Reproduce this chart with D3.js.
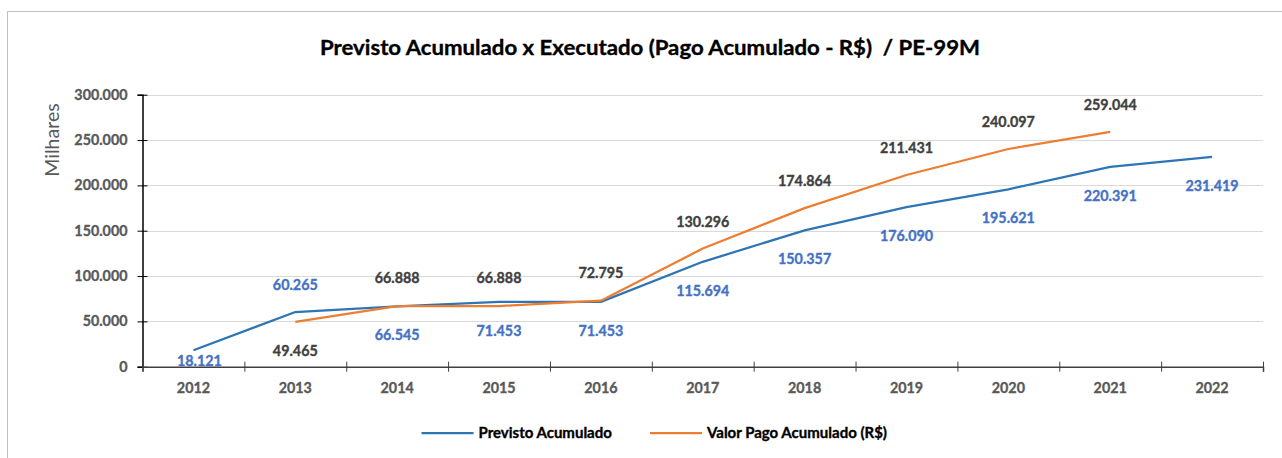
<!DOCTYPE html>
<html>
<head>
<meta charset="utf-8">
<script src="https://cdn.jsdelivr.net/npm/d3@7"></script>
<style>
  html, body { margin: 0; padding: 0; background: #fff; }
  svg { display: block; font-family: Lato, "Open Sans", sans-serif; }
  .heavy { stroke-width: 0.35px; paint-order: stroke; }
</style>
</head>
<body>
<svg id="chart" width="1282" height="458"></svg>
<script>
// ---- data ----
const categories = ["2012","2013","2014","2015","2016","2017","2018","2019","2020","2021","2022"];
const previsto = [18121, 60265, 66545, 71453, 71453, 115694, 150357, 176090, 195621, 220391, 231419];
const pago = [null, 49465, 66888, 66888, 72795, 130296, 174864, 211431, 240097, 259044, null];
const yTicks = [0, 50000, 100000, 150000, 200000, 250000, 300000];
const seriesNames = ["Previsto Acumulado", "Valor Pago Acumulado (R$)"];
const titleText = "Previsto Acumulado x Executado (Pago Acumulado - R$)  / PE-99M";
const yAxisTitle = "Milhares";

// ---- label placement (layout, not data) ----
const prevLabelDy = [11, -27, 29, 29, 29, 29, 29, 29, 29, 29, 29];
const prevLabelDx = [6, 0, 0, 0, 0, 0, 0, 0, 0, 0, 0];
const pagoLabelDy = [0, 29, -28, -28, -28, -27, -27, -27, -27, -27, 0];

const colors = { previsto: "#2E75B6", pago: "#ED7D31", prevLabel: "#4472C4", pagoLabel: "#404040", axisText: "#595959" };

const svg = d3.select("#chart");
const locale = d3.formatLocale({ decimal: ",", thousands: ".", grouping: [3], currency: ["R$", ""] });
const fmt = locale.format(",.0f");
const fmtLabel = v => locale.format(",.0f")(v);

const plot = { left: 142.5, right: 1263, top: 94.7, bottom: 366.7 };
const fs = 14.3;

const x = d3.scaleBand().domain(categories).range([plot.left, plot.right]).padding(0);
const xi = d3.scaleLinear().domain([0, categories.length]).range([plot.left, plot.right]);
const y = d3.scaleLinear().domain([0, 300000]).range([plot.bottom, plot.top]);
const cx = c => x(c) + x.bandwidth() / 2;

// chart border
svg.append("rect").attr("x", 7.5).attr("y", 11.5).attr("width", 1400).attr("height", 600)
  .attr("fill", "none").attr("stroke", "#bfbfbf").attr("stroke-width", 1);

// title
svg.append("text").attr("x", 650).attr("y", 55).attr("text-anchor", "middle")
  .attr("font-size", 20.5).attr("font-weight", "bold").attr("fill", "#000")
  .attr("class", "heavy").attr("stroke", "#000")
  .attr("textLength", 660).attr("lengthAdjust", "spacingAndGlyphs")
  .style("white-space", "pre")
  .text(titleText);

// gridlines
svg.append("g").selectAll("line").data(yTicks.filter(d => d > 0)).join("line")
  .attr("x1", plot.left).attr("x2", plot.right)
  .attr("y1", d => Math.round(y(d)) + 0.5).attr("y2", d => Math.round(y(d)) + 0.5)
  .attr("stroke", "#d9d9d9").attr("stroke-width", 1);

// y axis
const yAxis = svg.append("g").attr("transform", `translate(${plot.left},0)`)
  .call(d3.axisLeft(y).tickValues(yTicks).tickFormat(fmt).tickSize(5).tickPadding(10));
yAxis.select(".domain").attr("stroke", "#000").attr("stroke-width", 1.5);
yAxis.selectAll(".tick line").attr("x1", 5).attr("x2", -5).attr("stroke", "#000");
yAxis.selectAll(".tick text").attr("font-size", fs).attr("font-weight", "bold")
  .attr("fill", colors.axisText).attr("font-family", "Lato, sans-serif")
  .attr("class", "heavy").attr("stroke", colors.axisText);

// x axis (boundary ticks)
const xAxis = svg.append("g").attr("transform", `translate(0,${plot.bottom})`)
  .call(d3.axisBottom(xi).tickValues(d3.range(0, categories.length + 1)).tickSize(5).tickFormat(""));
xAxis.select(".domain").attr("stroke", "#404040").attr("stroke-width", 1.5);
xAxis.selectAll(".tick line").attr("y1", -5).attr("y2", 5).attr("stroke", "#404040");

// x labels
svg.append("g").selectAll("text").data(categories).join("text")
  .attr("x", d => cx(d)).attr("y", 388).attr("dy", "0.35em").attr("text-anchor", "middle")
  .attr("font-size", fs).attr("font-weight", "bold").attr("fill", colors.axisText)
  .attr("class", "heavy").attr("stroke", colors.axisText)
  .text(d => d);

// y axis title
svg.append("text").attr("transform", "translate(59,140) rotate(-90)")
  .attr("text-anchor", "middle").attr("font-size", 19.5).attr("fill", colors.axisText)
  .text(yAxisTitle);

// lines
const line = d3.line().defined(d => d.v != null).x(d => cx(d.c)).y(d => y(d.v));
const prevData = categories.map((c, i) => ({ c, v: previsto[i], i }));
const pagoData = categories.map((c, i) => ({ c, v: pago[i], i }));

svg.append("path").datum(prevData).attr("d", line).attr("fill", "none")
  .attr("stroke", colors.previsto).attr("stroke-width", 2.25).attr("stroke-linejoin", "round");
svg.append("path").datum(pagoData).attr("d", line).attr("fill", "none")
  .attr("stroke", colors.pago).attr("stroke-width", 2.25).attr("stroke-linejoin", "round");

// data labels
svg.append("g").selectAll("text").data(prevData).join("text")
  .attr("x", d => cx(d.c) + prevLabelDx[d.i]).attr("y", d => y(d.v) + prevLabelDy[d.i])
  .attr("dy", "0.35em").attr("text-anchor", "middle")
  .attr("font-size", fs).attr("font-weight", "bold").attr("fill", colors.prevLabel)
  .attr("class", "heavy").attr("stroke", colors.prevLabel)
  .text(d => fmtLabel(d.v));
svg.append("g").selectAll("text").data(pagoData.filter(d => d.v != null)).join("text")
  .attr("x", d => cx(d.c)).attr("y", d => y(d.v) + pagoLabelDy[d.i])
  .attr("dy", "0.35em").attr("text-anchor", "middle")
  .attr("font-size", fs).attr("font-weight", "bold").attr("fill", colors.pagoLabel)
  .attr("class", "heavy").attr("stroke", colors.pagoLabel)
  .text(d => fmtLabel(d.v));

// legend
const legendItems = [
  { name: seriesNames[0], color: colors.previsto, x0: 421.5 },
  { name: seriesNames[1], color: colors.pago, x0: 650 }
];
const lg = svg.append("g").selectAll("g").data(legendItems).join("g")
  .attr("transform", d => `translate(${d.x0},433)`);
lg.append("line").attr("x1", 0).attr("x2", 52).attr("y1", 0).attr("y2", 0)
  .attr("stroke", d => d.color).attr("stroke-width", 2.25);
lg.append("text").attr("x", 57).attr("y", 0).attr("dy", "0.35em")
  .attr("font-size", 15).attr("font-weight", "bold").attr("fill", "#000")
  .attr("class", "heavy").attr("stroke", "#000")
  .text(d => d.name);
</script>
</body>
</html>
